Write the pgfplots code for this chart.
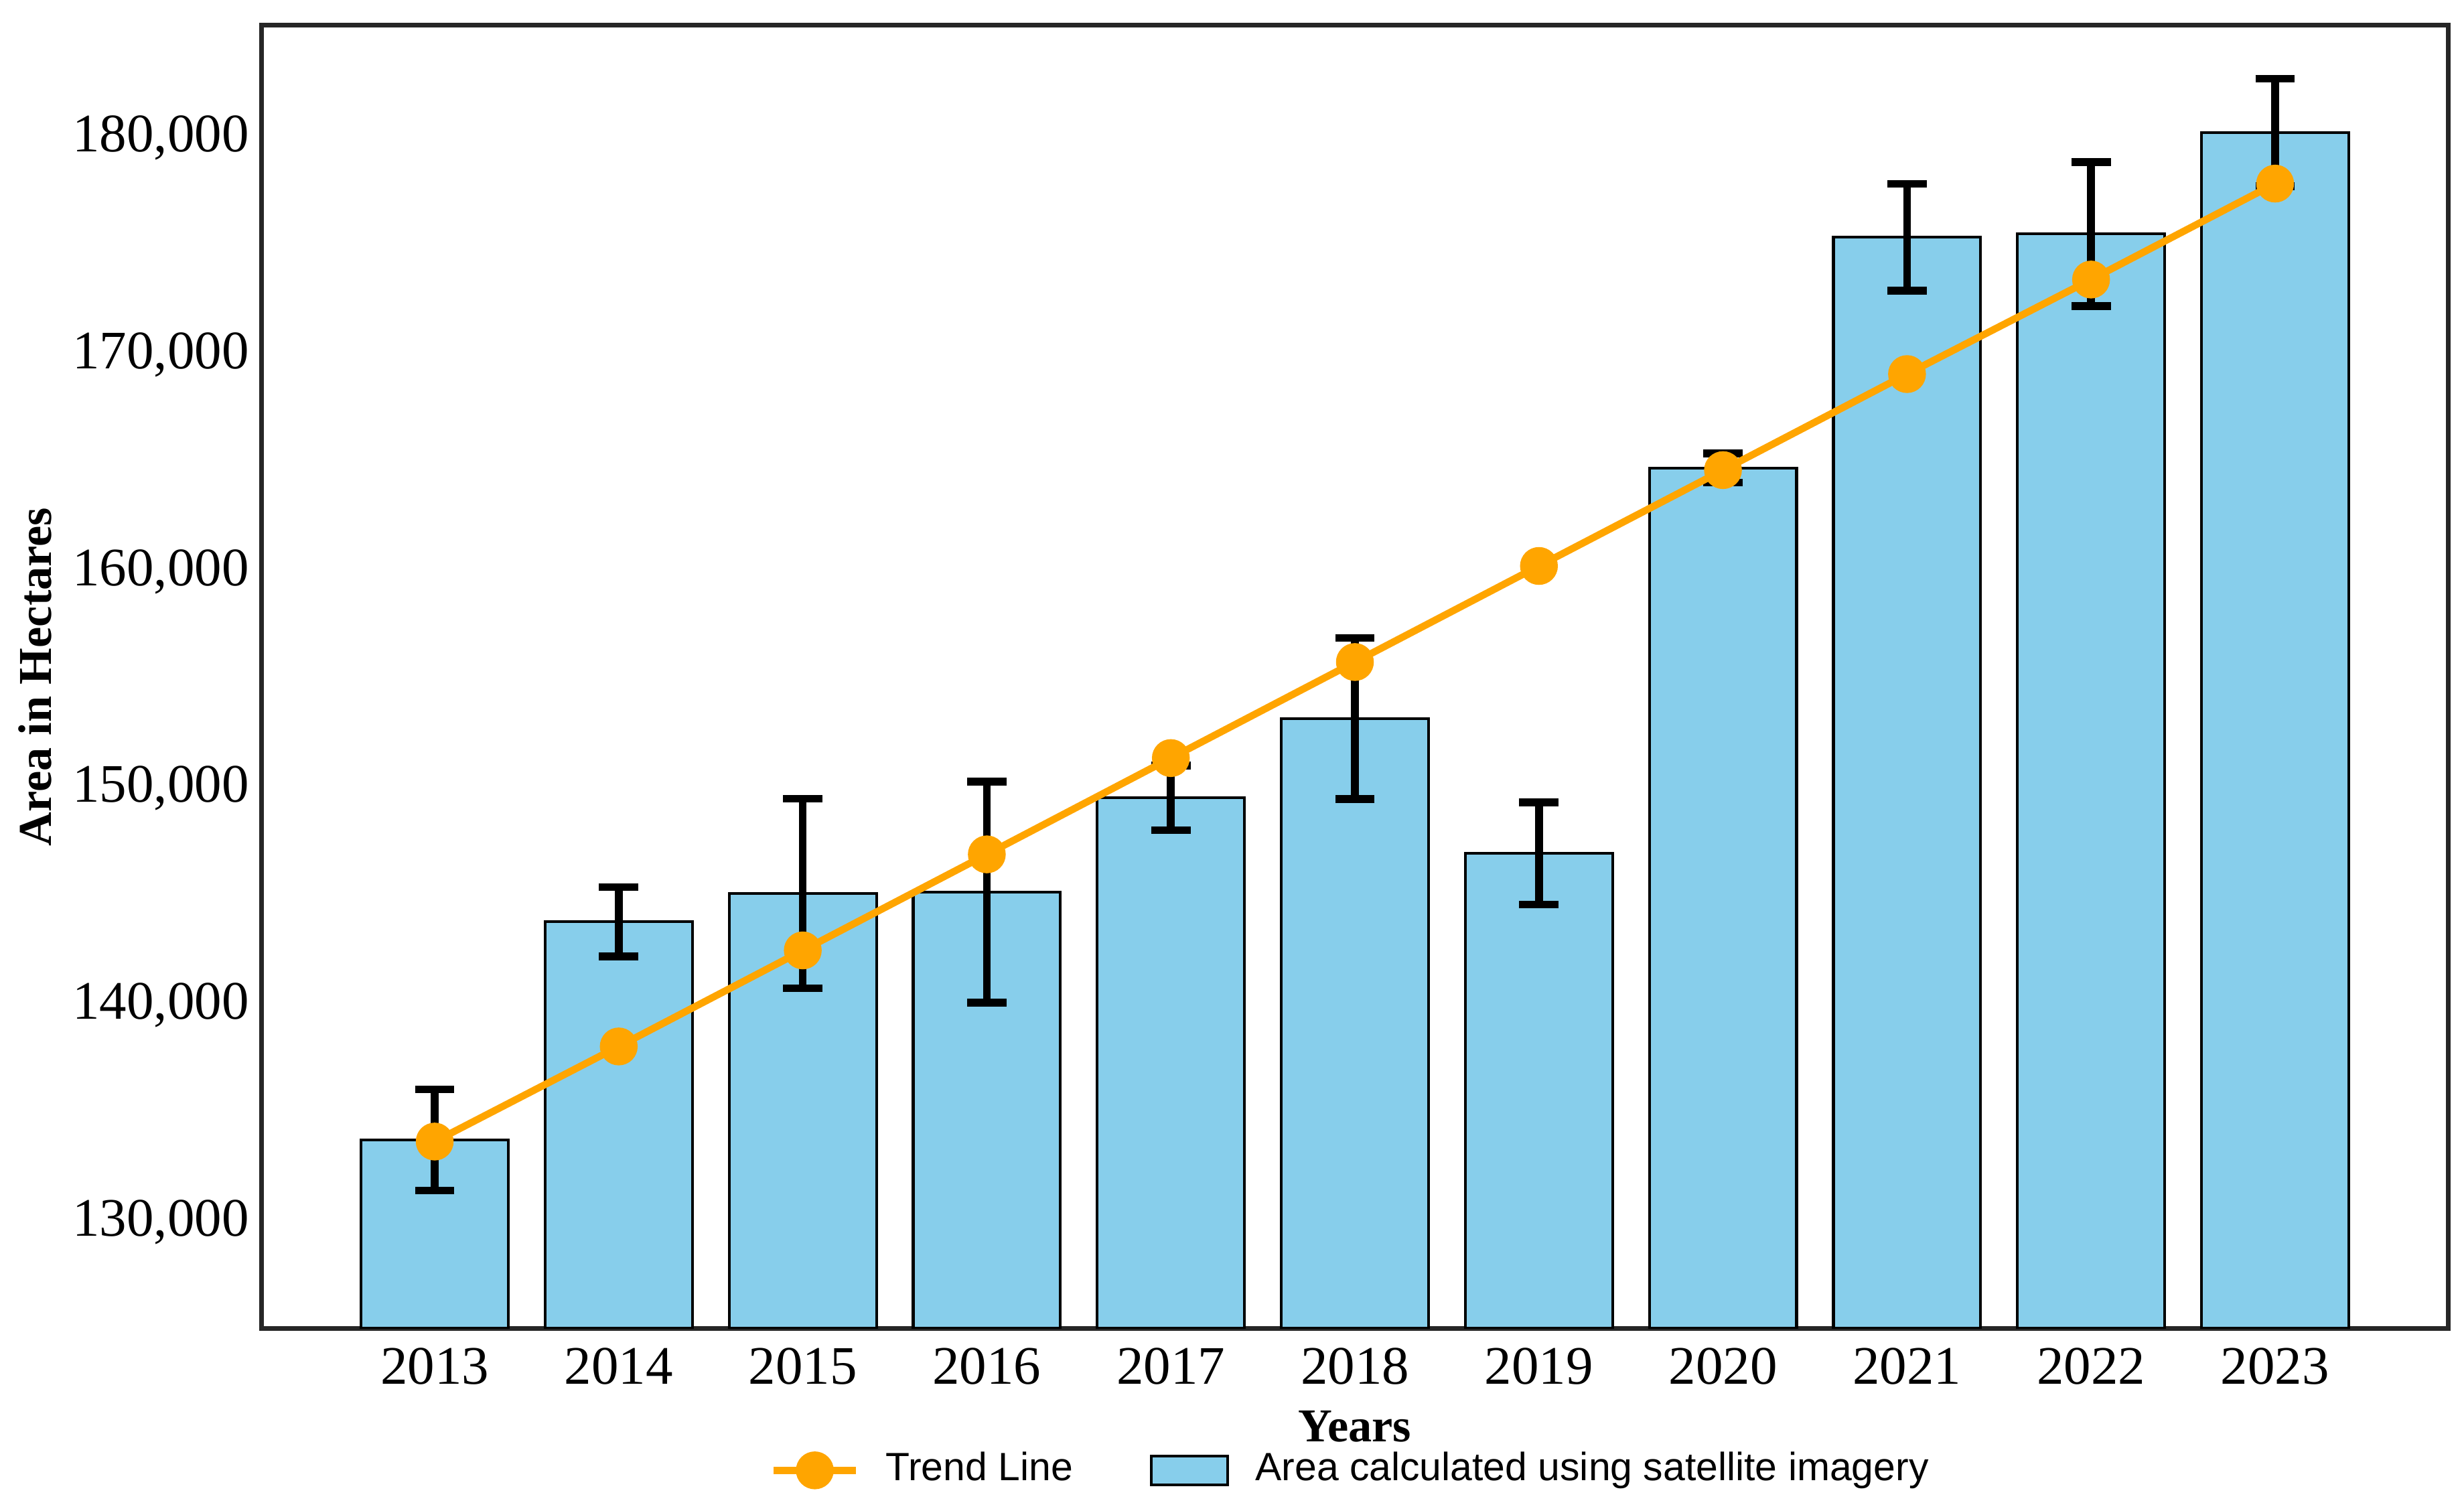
\documentclass[border=0pt]{standalone}
\usepackage{fontspec}
\setmainfont{Liberation Serif}
\newfontfamily\legendfont{Liberation Sans}
\usepackage{pgfplots}
\usepackage{pgfplotstable}
\pgfplotsset{compat=1.18}

\definecolor{barblue}{HTML}{87CEEB}
\definecolor{trendorange}{HTML}{FFA500}

\pgfplotsset{
  barlegend/.style={legend image code/.code={\draw[##1, fill=barblue, draw=black] (0pt,-2.6pt) rectangle (14pt,2.6pt);}},
  linelegend/.style={legend image code/.code={\draw[##1, mark=none] (0pt,0pt) -- (15pt,0pt); \draw[##1, only marks] plot coordinates {(7.5pt,0pt)};}},
}

% x = position, area = bar height, err = error bar half size, trend = fitted line
\pgfplotstableread{
x year area   err  trend
0 2013 133790 2330 133714
1 2014 143850 1600 138100
2 2015 145150 4370 142530
3 2016 145220 5100 146960
4 2017 149570 1490 151400
5 2018 153220 3715 155830
6 2019 147000 2350 160260
7 2020 164780 670  164680
8 2021 175420 2460 169110
9 2022 175570 3320 173470
10 2023 180250 2480 177895
}\data

\begin{document}
\begin{tikzpicture}
\begin{axis}[
  scale only axis,
  width=399pt, height=237.8pt,
  xmin=-0.94, xmax=10.94,
  ymin=125100, ymax=185200,
  xtick={0,...,10},
  xticklabels={2013,2014,2015,2016,2017,2018,2019,2020,2021,2022,2023},
  ytick={130000,140000,150000,160000,170000,180000},
  scaled y ticks=false,
  yticklabel style={xshift=1.2pt, /pgf/number format/.cd, fixed, 1000 sep={,}, assume math mode=true},
  tick label style={font=\fontsize{9.9}{11}\selectfont},
  tick style={draw=none},
  axis line style={line width=0.8pt, black!85},
  xlabel={\textbf{Years}},
  ylabel={\textbf{Area in Hectares}},
  label style={font=\fontsize{8.6}{10}\selectfont},
  xlabel style={yshift=2pt},
  ylabel shift=-3pt,
  legend style={at={(0.5,-0.109)}, anchor=center, draw=none, fill=none,
    legend columns=2, font=\legendfont\fontsize{7.2}{9}\selectfont,
    /tikz/every odd column/.append style={column sep=2.8pt},
    /tikz/every even column/.append style={column sep=12pt}},
  reverse legend,
]
\addplot[ybar, bar width=0.8, fill=barblue, draw=black, line width=0.5pt,
  barlegend,
  error bars/.cd, y dir=both, y explicit,
  error bar style={line width=1.4pt, black},
  error mark options={rotate=90, mark size=3.6pt, line width=1.4pt, black}]
  table[x=x, y=area, y error=err]{\data};
\addlegendentry{Area calculated using satellite imagery}
\addplot[trendorange, line width=1.3pt, mark=*, mark size=2.8pt,
  mark options={fill=trendorange, draw=trendorange},
  linelegend]
  table[x=x, y=trend]{\data};
\addlegendentry{Trend Line}
\end{axis}
% margins around the axis as in the reference
\path ([yshift=4.6pt]current axis.north east) -- ([xshift=2.9pt]current axis.north east);
\path ([yshift=-32.5pt]current axis.south) -- ++(0,1pt);
\end{tikzpicture}
\end{document}
